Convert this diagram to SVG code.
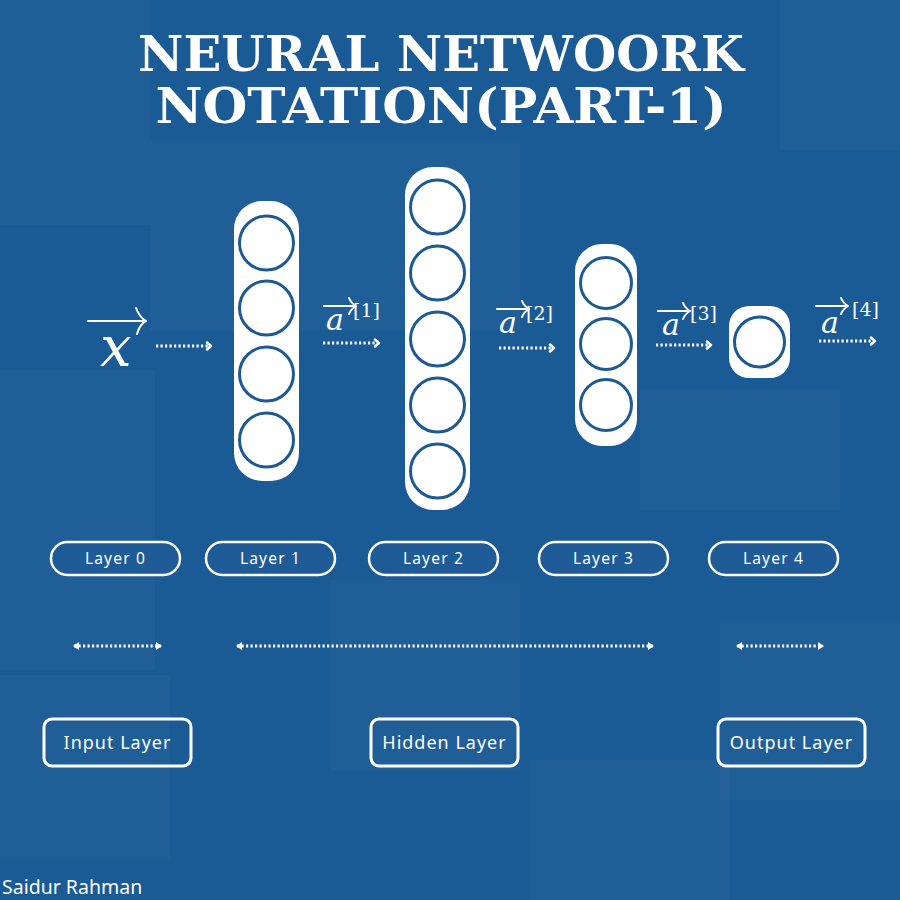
<svg xmlns="http://www.w3.org/2000/svg" width="900" height="900" viewBox="0 0 900 900">
<style>
.bg{fill:#1a5a95}
.patch{fill:#ffffff;opacity:0.028}
.title{font-family:"DejaVu Serif","Liberation Serif",serif;font-weight:bold;font-size:48px;fill:#ffffff}
.pill{fill:#ffffff}
.neuron{fill:#ffffff;stroke:#1d5a94;stroke-width:3}
.math{font-family:"DejaVu Serif",serif;font-style:italic;fill:#ffffff}
.sup{font-family:"DejaVu Serif",serif;fill:#ffffff;font-size:19px}
.vec{fill:none;stroke:#ffffff;stroke-width:2;stroke-linecap:round;stroke-linejoin:round}
.dots{fill:none;stroke:#ffffff;stroke-width:3;stroke-dasharray:2.2 2.3}
.lab{fill:#1f5c97;stroke:#ffffff;stroke-width:2.5}
.labt{font-family:"Noto Sans","DejaVu Sans",sans-serif;font-size:15.5px;fill:#ffffff;letter-spacing:1.2px;text-anchor:middle}
.box{fill:none;stroke:#ffffff;stroke-width:3}
.boxt{font-family:"Noto Sans","DejaVu Sans",sans-serif;font-size:18px;fill:#ffffff;letter-spacing:1px;text-anchor:middle}
.sig{font-family:"Noto Sans","Roboto",sans-serif;font-size:19.5px;fill:#ffffff}
</style>
<defs>
<marker id="ah" markerWidth="10" markerHeight="10" refX="5" refY="5" orient="auto" markerUnits="userSpaceOnUse">
<path d="M2,1.5 L6,5 L2,8.5" fill="none" stroke="#ffffff" stroke-width="2.5" stroke-linecap="round" stroke-linejoin="round"/>
</marker>
<marker id="dh" markerWidth="10" markerHeight="10" refX="6" refY="5" orient="auto-start-reverse" markerUnits="userSpaceOnUse">
<path d="M1,1 L7,5 L1,9 Z" fill="#ffffff"/>
</marker>
</defs>
<rect class="bg" x="0" y="0" width="900" height="900"/>
<g id="texture">
<rect class="patch" x="0" y="0" width="150" height="225"/>
<rect class="patch" x="150" y="140" width="370" height="190"/>
<rect class="patch" x="780" y="0" width="120" height="150"/>
<rect class="patch" x="0" y="370" width="155" height="300"/>
<rect class="patch" x="640" y="390" width="200" height="120"/>
<rect class="patch" x="0" y="675" width="170" height="185"/>
<rect class="patch" x="330" y="580" width="190" height="190"/>
<rect class="patch" x="720" y="620" width="180" height="180"/>
<rect class="patch" x="530" y="760" width="200" height="140"/>
</g>
<g id="title">
<text class="title" x="441" y="71" text-anchor="middle" textLength="606" lengthAdjust="spacingAndGlyphs">NEURAL NETWOORK</text>
<text class="title" x="441" y="123" text-anchor="middle" textLength="571" lengthAdjust="spacingAndGlyphs">NOTATION(PART-1)</text>
</g>
<g id="layer1">
<rect class="pill" x="234" y="201" width="65" height="280" rx="28"/>
<circle class="neuron" cx="266.5" cy="243" r="27"/>
<circle class="neuron" cx="266.5" cy="308" r="27"/>
<circle class="neuron" cx="266.5" cy="374" r="27"/>
<circle class="neuron" cx="266.5" cy="440" r="27"/>
</g>
<g id="layer2">
<rect class="pill" x="405" y="167" width="65" height="343" rx="28"/>
<circle class="neuron" cx="437.5" cy="207" r="27"/>
<circle class="neuron" cx="437.5" cy="273" r="27"/>
<circle class="neuron" cx="437.5" cy="339" r="27"/>
<circle class="neuron" cx="437.5" cy="405" r="27"/>
<circle class="neuron" cx="437.5" cy="471" r="27"/>
</g>
<g id="layer3">
<rect class="pill" x="575" y="244" width="62" height="202" rx="27"/>
<circle class="neuron" cx="606" cy="283" r="25.5"/>
<circle class="neuron" cx="606" cy="344" r="25.5"/>
<circle class="neuron" cx="606" cy="405" r="25.5"/>
</g>
<g id="layer4">
<rect class="pill" x="729" y="306" width="61" height="72" rx="20"/>
<circle class="neuron" cx="759.5" cy="342" r="25"/>
</g>
<g id="vectors">
<text class="math" x="100" y="366" font-size="56">x</text>
<path class="vec" d="M88,321 H145 M136,308 Q140,318 146,321 Q140,324 137,334"/>
<text class="math" x="326" y="330" font-size="30">a</text>
<path class="vec" d="M324,306 H355 M349,298 Q351,303 356,306 Q351,309 349,314" stroke-width="1.6"/>
<text class="sup" x="353" y="317">[1]</text>
<text class="math" x="499" y="333" font-size="30">a</text>
<path class="vec" d="M497,309 H528 M522,301 Q524,306 529,309 Q524,312 522,317" stroke-width="1.6"/>
<text class="sup" x="526" y="320">[2]</text>
<text class="math" x="662" y="335" font-size="30">a</text>
<path class="vec" d="M658,311 H689 M683,303 Q685,308 690,311 Q685,314 683,319" stroke-width="1.6"/>
<text class="sup" x="690" y="320">[3]</text>
<text class="math" x="821" y="333" font-size="30">a</text>
<path class="vec" d="M816,306 H847 M841,298 Q843,303 848,306 Q843,309 841,314" stroke-width="1.6"/>
<text class="sup" x="852" y="316">[4]</text>
</g>
<g id="connectors">
<line class="dots" x1="156" y1="346" x2="210" y2="346" marker-end="url(#ah)"/>
<line class="dots" x1="323" y1="343" x2="378" y2="343" marker-end="url(#ah)"/>
<line class="dots" x1="499" y1="348" x2="553" y2="348" marker-end="url(#ah)"/>
<line class="dots" x1="656" y1="345" x2="710" y2="345" marker-end="url(#ah)"/>
<line class="dots" x1="819" y1="341" x2="874" y2="341" marker-end="url(#ah)"/>
<line class="dots" x1="74" y1="646" x2="161" y2="646" marker-start="url(#dh)" marker-end="url(#dh)"/>
<line class="dots" x1="237" y1="646" x2="653" y2="646" marker-start="url(#dh)" marker-end="url(#dh)"/>
<line class="dots" x1="737" y1="646" x2="823" y2="646" marker-start="url(#dh)" marker-end="url(#dh)"/>
</g>
<g id="label0"><rect class="lab" x="51" y="542" width="129" height="33" rx="16.5"/><text class="labt" x="115.5" y="564">Layer 0</text></g>
<g id="label1"><rect class="lab" x="206" y="542" width="129" height="33" rx="16.5"/><text class="labt" x="270.5" y="564">Layer 1</text></g>
<g id="label2"><rect class="lab" x="369" y="542" width="129" height="33" rx="16.5"/><text class="labt" x="433.5" y="564">Layer 2</text></g>
<g id="label3"><rect class="lab" x="539" y="542" width="129" height="33" rx="16.5"/><text class="labt" x="603.5" y="564">Layer 3</text></g>
<g id="label4"><rect class="lab" x="709" y="542" width="129" height="33" rx="16.5"/><text class="labt" x="773.5" y="564">Layer 4</text></g>
<g id="inputbox"><rect class="box" x="44" y="719" width="147" height="47" rx="8"/><text class="boxt" x="117.5" y="749">Input Layer</text></g>
<g id="hiddenbox"><rect class="box" x="371" y="719" width="147" height="47" rx="8"/><text class="boxt" x="444.5" y="749">Hidden Layer</text></g>
<g id="outputbox"><rect class="box" x="718" y="719" width="147" height="47" rx="8"/><text class="boxt" x="791.5" y="749">Output Layer</text></g>
<text class="sig" x="2" y="894">Saidur Rahman</text>
</svg>
